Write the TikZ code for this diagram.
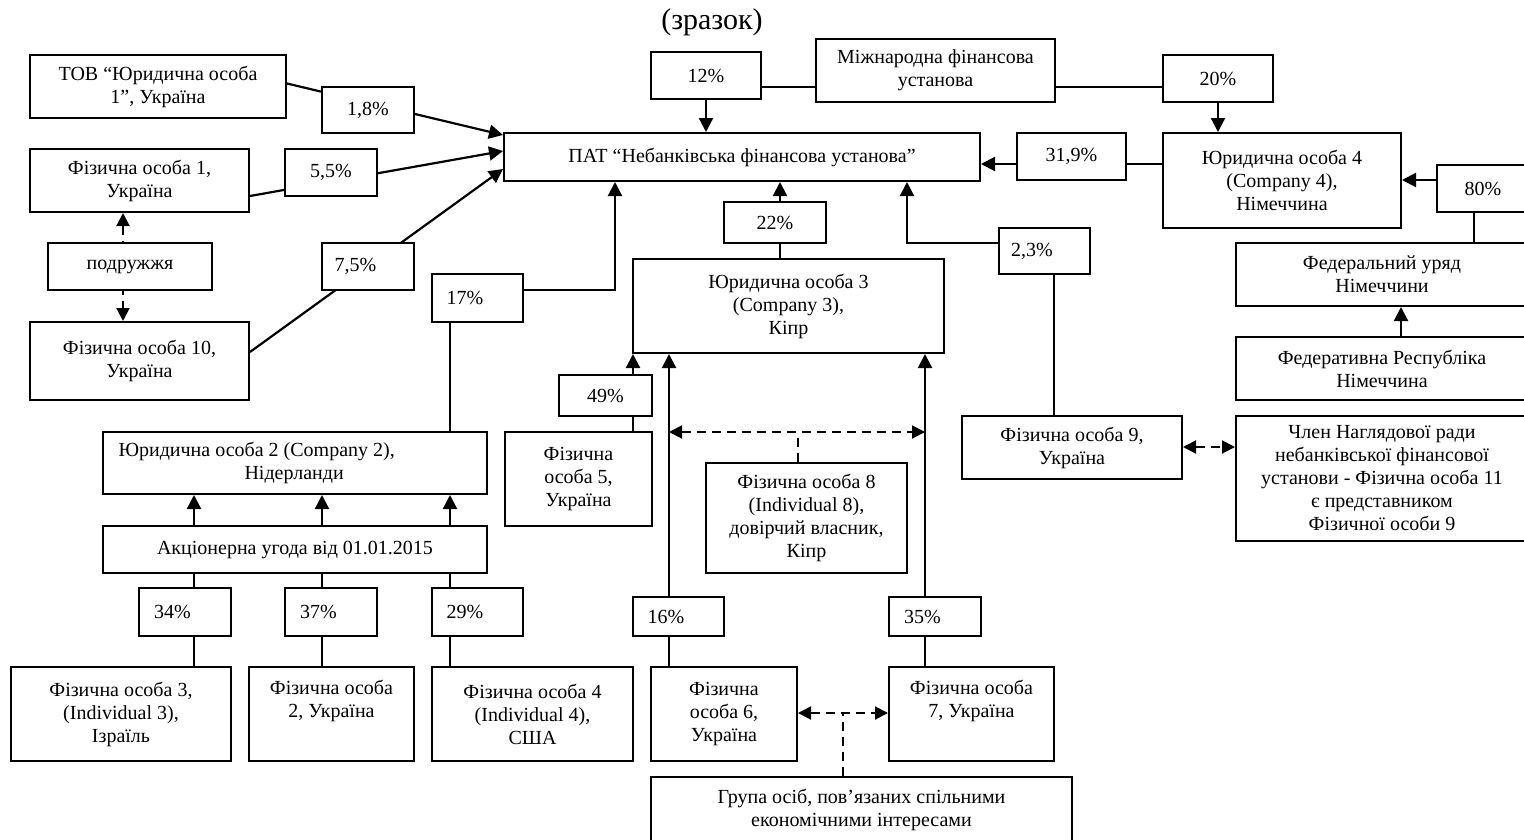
\documentclass[tikz,border=0pt]{standalone}
\usepackage{fontspec}
\setmainfont{Liberation Serif}
\usetikzlibrary{arrows.meta,calc}
\pgfdeclarelayer{background}
\pgfsetlayers{background,main}
\newcommand\Bx[7][]{\node[bx,#1,minimum width={(#5-#3)*1pt},minimum height={(#6-#4)*1pt}] (#2) at ({(#3+#5)/2},{(#4+#6)/2}) {#7};}
\newcommand\Lft[1]{#1\hspace*{25pt}}
\tikzset{
  bx/.style={draw, line width=2pt, fill=white, inner sep=0pt, align=center, font=\fontsize{20}{23}\selectfont},
  ln/.style={line width=2pt},
  arr/.style={line width=2.2pt,-{Triangle[length=14pt,width=14pt]}},
  darr/.style={line width=2pt,dash pattern=on 9pt off 6pt,{Triangle[length=13pt,width=13pt]}-{Triangle[length=13pt,width=13pt]}},
  dsh/.style={line width=2pt,dash pattern=on 9pt off 6pt}
}
\begin{document}
\begin{tikzpicture}[x=1pt,y=-1pt]
\useasboundingbox (0,0) rectangle (1524,839);
\begin{pgfonlayer}{background}
\fill[white] (0,0) rectangle (1524,839);
\end{pgfonlayer}
\node[font=\fontsize{30}{34}\selectfont] (title) at (712,22) {(зразок)};
% left column
\Bx{tov}{30}{55}{286}{118}{ТОВ “Юридична особа\\1”, Україна}
\Bx{p18}{322}{87}{414}{133}{1,8\%}
\Bx{f1}{30}{149}{249}{212}{Фізична особа 1,\\Україна}
\Bx{p55}{285}{149}{377}{196}{5,5\%}
\Bx{pod}{48}{243}{212}{290}{подружжя}
\Bx{p75}{322}{243}{414}{290}{\Lft{7,5\%}}
\Bx{f10}{30}{322}{249}{400}{Фізична особа 10,\\Україна}
\Bx{p17}{432}{274}{523}{322}{\Lft{17\%}}
% top centre
\Bx{pat}{504}{133}{980}{181}{ПАТ “Небанківська фінансова установа”}
\Bx{p12}{651}{52}{761}{99}{12\%}
\Bx{mfu}{816}{39}{1055}{102}{Міжнародна фінансова\\установа}
\Bx{p20}{1163}{55}{1273}{102}{20\%}
\Bx{p319}{1017}{133}{1126}{180}{31,9\%}
\Bx{yo4}{1163}{133}{1401}{228}{Юридична особа 4\\(Company 4),\\Німеччина}
\Bx{p80}{1437}{165}{1529}{212}{80\%}
\Bx{fu}{1236}{243}{1528}{306}{Федеральний уряд\\Німеччини}
\Bx{frn}{1236}{337}{1528}{400}{Федеративна Республіка\\Німеччина}
\Bx{p22}{724}{202}{826}{243}{22\%}
\Bx{yo3}{633}{259}{944}{353}{Юридична особа 3\\(Company 3),\\Кіпр}
\Bx{p23}{999}{228}{1090}{274}{\Lft{2,3\%}}
\Bx{p49}{559}{375}{652}{416}{49\%}
\Bx{f5}{505}{432}{652}{526}{Фізична\\особа 5,\\Україна}
\Bx{f8}{706}{463}{907}{573}{Фізична особа 8\\(Individual 8),\\довірчий власник,\\Кіпр}
\Bx{f9}{962}{416}{1182}{479}{Фізична особа 9,\\Україна}
\Bx{chl}{1236}{416}{1528}{541}{Член Наглядової ради\\небанківської фінансової\\установи - Фізична особа 11\\є представником\\Фізичної особи 9}
% lower left
\Bx[align=left]{yo2}{103}{432}{487}{494}{\makebox[353pt][l]{Юридична особа 2 (Company 2),}\\\makebox[353pt][l]{\hspace*{126pt}Нідерланди}}
\Bx{akc}{103}{526}{487}{573}{Акціонерна угода від 01.01.2015}
\Bx{p34}{139}{588}{231}{636}{\Lft{34\%}}
\Bx{p37}{285}{588}{377}{636}{\Lft{37\%}}
\Bx{p29}{432}{588}{523}{636}{\Lft{29\%}}
\Bx{p16}{633}{597}{724}{636}{\Lft{16\%}}
\Bx{p35}{889}{597}{981}{636}{\Lft{35\%}}
\Bx{f3}{11}{667}{231}{761}{Фізична особа 3,\\(Individual 3),\\Ізраїль}
\Bx{f2}{249}{667}{414}{761}{Фізична особа\\2, Україна\\\strut}
\Bx{f4}{432}{667}{633}{761}{Фізична особа 4\\(Individual 4),\\США}
\Bx{f6}{651}{667}{797}{761}{Фізична\\особа 6,\\Україна}
\Bx{f7}{889}{667}{1054}{761}{Фізична особа\\7, Україна\\\strut}
\Bx{grp}{651}{777}{1072}{842}{Група осіб, пов’язаних спільними\\економічними інтересами}
% helper coordinates for dashed links
\coordinate (dl) at (669,432);
\coordinate (dr) at (925,432);
\coordinate (dm) at (798,432);
\coordinate (gm) at (843,713);
\begin{pgfonlayer}{background}
% oblique arrows into PAT
\draw[arr] ([yshift=3pt]tov.east) -- ([yshift=-3pt]pat.north west);
\draw[arr] ([yshift=-15.5pt]f1.east) -- ([yshift=-19pt]pat.north west);
\draw[arr] ([yshift=9pt]f10.east) -- ([yshift=-37pt]pat.north west);
\draw[darr] (f1.south -| 123,0) -- (f10.north -| 123,0);
% top
\draw[arr] (p12.south) -- (p12.south |- pat.north);
\draw[ln] (p12.east |- 0,87) -- (mfu.west |- 0,87);
\draw[ln] (mfu.east |- 0,87) -- (p20.west |- 0,87);
\draw[arr] (p20.south -| 1218,0) -- (yo4.north -| 1218,0);
\draw[ln] (yo4.west |- 0,164) -- (p319.east |- 0,164);
\draw[arr] (p319.west |- 0,164) -- (pat.east |- 0,164);
\draw[arr] (p80.west |- 0,180) -- (yo4.east |- 0,180);
\draw[ln] (p80.south -| 1474,0) -- (fu.north -| 1474,0);
\draw[arr] (frn.north -| 1401,0) -- (fu.south -| 1401,0);
% centre
\draw[ln] (yo3.north -| 780,0) -- (p22.south -| 780,0);
\draw[arr] (p22.north -| 780,0) -- (pat.south -| 780,0);
\draw[arr] (p23.west |- 0,243) -| (pat.south -| 907,0);
\draw[ln] (p23.south -| 1054,0) -- (f9.north -| 1054,0);
\draw[darr] (f9.east |- 0,447) -- (chl.west |- 0,447);
\draw[arr] (p17.east |- 0,290) -| (pat.south -| 615,0);
\draw[ln] (p17.south -| 450,0) -- (yo2.north -| 450,0);
% company 2 block
\foreach \xx/\pp/\ff in {194/p34/f3, 322/p37/f2, 450/p29/f4}{
  \draw[arr] (akc.north -| \xx,0) -- (yo2.south -| \xx,0);
  \draw[ln] (akc.south -| \xx,0) -- (\pp.north -| \xx,0);
  \draw[ln] (\pp.south -| \xx,0) -- (\ff.north -| \xx,0);
}
% company 3 block
\draw[arr] (p49.north -| 633,0) -- (yo3.south -| 633,0);
\draw[ln] (p49.south -| 633,0) -- (f5.north -| 633,0);
\draw[arr] (p16.north -| 669,0) -- (yo3.south -| 669,0);
\draw[ln] (p16.south -| 669,0) -- (f6.north -| 669,0);
\draw[arr] (p35.north -| 925,0) -- (yo3.south -| 925,0);
\draw[ln] (p35.south -| 925,0) -- (f7.north -| 925,0);
\draw[darr] (dl) -- (dr);
\draw[dsh] (f8.north -| dm) -- (dm);
\draw[darr] (f6.east |- 0,713) -- (f7.west |- 0,713);
\draw[dsh] (grp.north -| gm) -- (gm);
\end{pgfonlayer}
\end{tikzpicture}
\end{document}
